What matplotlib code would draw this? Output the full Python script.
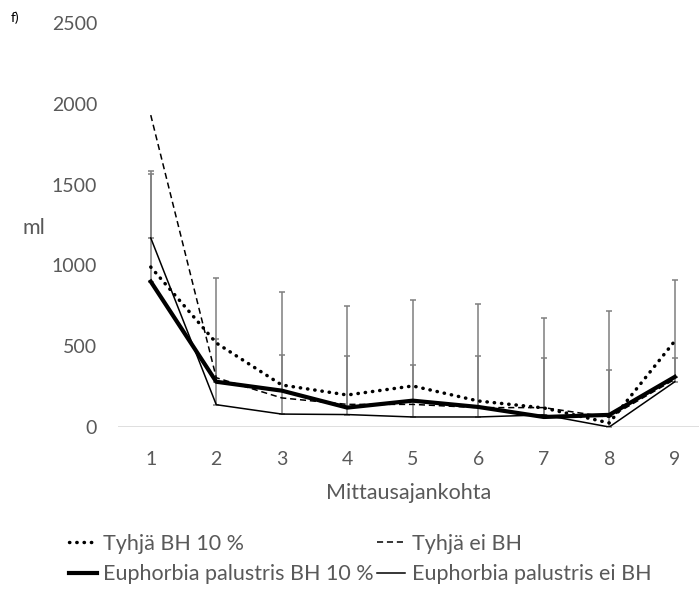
import numpy as np
import matplotlib
matplotlib.use("Agg")
import matplotlib.pyplot as plt

plt.rcParams['font.family'] = ['Lato', 'DejaVu Sans']

# measurement points
x = np.arange(1, 10)

tyhja_bh = [990, 520, 260, 198, 254, 161, 118, 25, 532]
tyhja_ei = [1930, 305, 180, 140, 140, 120, 120, 60, 295]
euph_bh = [900, 280, 225, 120, 163, 124, 62, 75, 310]
euph_ei = [1170, 138, 80, 77, 62, 62, 75, 0, 280]

# upper error bar ends
euph_bh_top = [1584, 922, 836, 749, 786, 761, 675, 720, 910]
euph_ei_top = [1566, 545, 446, 440, 384, 440, 427, 350, 427]

euph_bh_err = np.array(euph_bh_top) - np.array(euph_bh)
euph_ei_err = np.array(euph_ei_top) - np.array(euph_ei)

gray = '#595959'
fs_tick = 14
fs = 15.5

fig = plt.figure(figsize=(6.99, 5.9), dpi=100)
ax = fig.add_axes([118/699, 163/590, 581/699, 404/590])

# error bars (plus only)
ax.errorbar(x, euph_bh, yerr=[np.zeros(9), euph_bh_err], fmt='none',
            ecolor='#7f7f7f', elinewidth=1.1, capsize=2.5, capthick=1.1, zorder=2)
ax.errorbar(x, euph_ei, yerr=[np.zeros(9), euph_ei_err], fmt='none',
            ecolor='#7f7f7f', elinewidth=1.1, capsize=2.5, capthick=1.1, zorder=2)

l1, = ax.plot(x, tyhja_bh, color='black', lw=2.5, linestyle=(0, (0.1, 2.0)),
              dash_capstyle='round', zorder=4, label='Tyhjä BH 10 %')
l2, = ax.plot(x, tyhja_ei, color='black', lw=1.1, linestyle=(0, (4, 2.5)),
              zorder=3, label='Tyhjä ei BH')
l3, = ax.plot(x, euph_bh, color='black', lw=3.0, zorder=4,
              solid_joinstyle='round', label='Euphorbia palustris BH 10 %')
l4, = ax.plot(x, euph_ei, color='black', lw=1.1, zorder=3,
              label='Euphorbia palustris ei BH')

ax.set_xlim(0.5, 9.37)
ax.set_ylim(0, 2500)
ax.set_yticks([0, 500, 1000, 1500, 2000, 2500])
ax.set_xticks(x)
ax.axhline(0, color='#d9d9d9', lw=1.2, zorder=1)
for s in ax.spines.values():
    s.set_visible(False)
ax.tick_params(length=0, labelsize=fs_tick, colors=gray)
ax.tick_params(axis='y', pad=15)
ax.tick_params(axis='x', pad=17)
ax.set_xlabel('Mittausajankohta', fontsize=fs, color=gray, labelpad=11)

fig.text(22/699, 1 - 228/590, 'ml', fontsize=fs, color=gray, va='center', ha='left')
fig.text(11/699, 1 - 18/590, 'f)', fontsize=10, color='black', va='center', ha='left')

leg = fig.legend([l1, l3, l2, l4],
                 ['Tyhjä BH 10 %', 'Euphorbia palustris BH 10 %',
                  'Tyhjä ei BH', 'Euphorbia palustris ei BH'],
                 ncol=2, frameon=False, loc='upper left',
                 bbox_to_anchor=(58/699, 1 - 523/590), fontsize=fs,
                 handlelength=1.3, handletextpad=0.3, columnspacing=0.15,
                 labelspacing=0.49, borderpad=0)
for t in leg.get_texts():
    t.set_color(gray)

fig.savefig('out.png', dpi=100)
